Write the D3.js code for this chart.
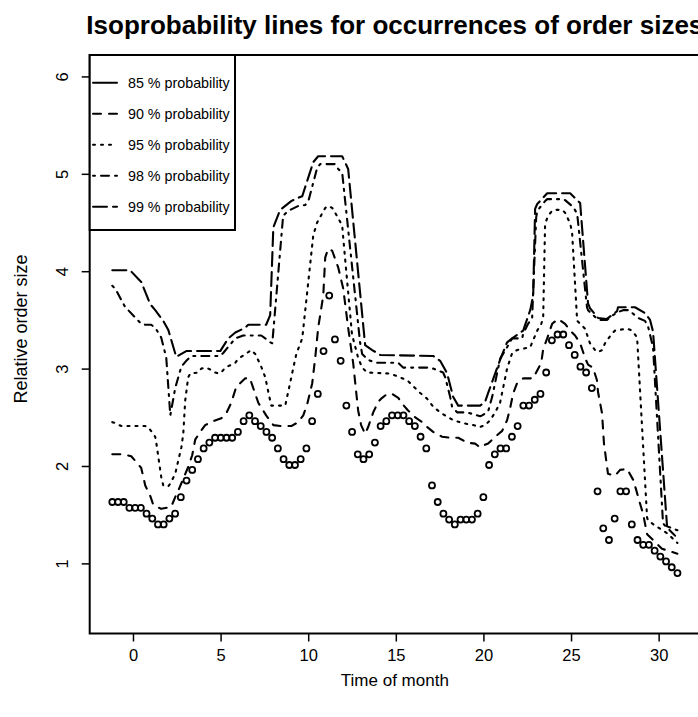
<!DOCTYPE html>
<html><head><meta charset="utf-8">
<script src="https://cdn.jsdelivr.net/npm/d3@7"></script>
<style>html,body{margin:0;padding:0;background:#fff;overflow:hidden}svg{display:block}</style>
</head><body><svg id="c" width="698" height="717"></svg>
<script>
// ---- data ----
const days = [-1.18,-0.854,-0.528,-0.203,0.123,0.449,0.775,1.101,1.426,1.752,
2.078,2.404,2.730,3.055,3.381,3.707,4.033,4.359,4.684,5.010,
5.336,5.662,5.988,6.313,6.639,6.965,7.291,7.617,7.942,8.268,
8.594,8.920,9.246,9.571,9.897,10.223,10.549,10.875,11.200,11.526,
11.852,12.178,12.504,12.829,13.155,13.481,13.807,14.133,14.458,14.784,
15.110,15.436,15.762,16.087,16.413,16.739,17.065,17.391,17.716,18.042,
18.368,18.694,19.020,19.345,19.671,19.997,20.323,20.649,20.974,21.300,
21.626,21.952,22.278,22.603,22.929,23.255,23.581,23.907,24.232,24.558,
24.884,25.210,25.536,25.861,26.187,26.513,26.839,27.165,27.490,27.816,
28.142,28.468,28.794,29.119,29.445,29.771,30.097,30.423,30.748,31.074];

const p85 = [1.63,1.63,1.63,1.57,1.57,1.57,1.51,1.46,1.40,1.40,
1.46,1.51,1.68,1.85,1.96,2.07,2.18,2.24,2.29,2.29,
2.29,2.29,2.35,2.46,2.52,2.46,2.41,2.35,2.29,2.18,
2.07,2.01,2.01,2.07,2.18,2.46,2.74,3.18,3.75,3.30,
3.08,2.62,2.35,2.12,2.07,2.12,2.24,2.41,2.46,2.52,
2.52,2.52,2.46,2.41,2.30,2.18,1.80,1.63,1.51,1.45,
1.40,1.45,1.45,1.45,1.51,1.68,2.01,2.12,2.18,2.18,
2.30,2.41,2.62,2.62,2.68,2.74,2.96,3.29,3.35,3.35,
3.24,3.14,3.02,2.96,2.80,1.74,1.36,1.24,1.46,1.74,
1.74,1.40,1.24,1.19,1.19,1.13,1.07,1.02,0.96,0.90];

const line90 = [[-1.18,2.12],[-0.55,2.12],[-0.10,2.10],[0.19,2.04],[0.47,1.98],[0.70,1.80],[0.99,1.69],[1.16,1.60],[1.61,1.56],[2.18,1.58],[2.41,1.68],[2.59,1.75],[2.87,1.87],[3.15,1.99],[3.38,2.11],[3.55,2.27],[3.84,2.35],[4.12,2.42],[4.58,2.46],[5.04,2.49],[5.32,2.54],[5.61,2.65],[5.89,2.81],[6.41,2.90],[6.69,2.90],[6.75,2.86],[7.15,2.65],[7.60,2.52],[8.01,2.42],[8.46,2.41],[9.03,2.41],[9.43,2.45],[9.72,2.52],[9.95,2.64],[10.23,2.85],[10.40,3.11],[10.57,3.42],[10.86,3.75],[10.97,4.14],[11.14,4.23],[11.37,4.21],[11.71,4.04],[12.00,3.82],[12.28,3.42],[12.57,3.05],[12.85,2.57],[13.02,2.42],[13.25,2.33],[13.42,2.40],[13.71,2.55],[14.00,2.66],[14.22,2.70],[14.51,2.74],[14.80,2.74],[15.14,2.70],[15.36,2.64],[15.70,2.57],[16.11,2.50],[16.50,2.45],[16.79,2.40],[17.13,2.35],[17.64,2.30],[18.10,2.29],[18.56,2.29],[19.07,2.24],[19.53,2.23],[19.81,2.19],[19.98,2.21],[20.27,2.23],[20.67,2.30],[21.07,2.36],[21.35,2.47],[21.52,2.59],[21.69,2.74],[21.92,2.85],[22.27,2.90],[22.84,2.90],[23.07,2.98],[23.30,3.06],[23.41,3.20],[23.64,3.31],[23.92,3.46],[24.26,3.51],[24.66,3.46],[24.95,3.39],[25.23,3.34],[25.52,3.26],[25.80,3.11],[25.97,3.04],[26.25,3.01],[26.48,2.88],[26.54,2.76],[26.77,2.54],[26.88,2.23],[27.05,2.00],[27.11,1.92],[27.51,1.90],[27.80,1.96],[28.20,1.97],[28.54,1.86],[28.71,1.76],[28.88,1.65],[29.11,1.51],[29.34,1.30],[30.19,1.15],[31.07,1.10]];

const line95 = [[-1.18,2.45],[-1.01,2.44],[-0.67,2.41],[0.70,2.41],[0.87,2.40],[1.27,2.30],[1.33,2.24],[1.61,1.89],[1.73,1.80],[2.01,1.79],[2.13,1.82],[2.41,1.92],[2.76,2.19],[2.87,2.33],[2.98,2.67],[3.15,2.91],[3.27,2.95],[3.72,2.96],[3.90,3.00],[4.18,3.01],[4.41,2.99],[4.69,2.96],[4.87,2.95],[5.04,2.96],[5.27,3.01],[5.84,3.06],[6.01,3.10],[6.75,3.19],[6.98,3.15],[7.32,3.02],[7.55,2.91],[7.83,2.67],[7.89,2.62],[8.69,2.62],[8.75,2.67],[9.32,3.15],[9.66,3.31],[10.29,4.37],[10.51,4.50],[10.97,4.65],[11.14,4.67],[11.37,4.65],[11.54,4.60],[11.94,4.47],[12.00,4.34],[12.50,3.35],[12.85,3.11],[13.08,3.01],[13.36,2.96],[14.57,2.95],[14.96,2.93],[15.65,2.88],[15.93,2.83],[16.39,2.75],[16.79,2.69],[17.13,2.61],[17.53,2.55],[18.27,2.47],[18.84,2.44],[19.41,2.42],[19.81,2.40],[20.10,2.42],[20.38,2.47],[20.67,2.55],[20.95,2.65],[21.35,3.00],[21.64,3.16],[21.92,3.19],[22.67,3.22],[23.07,3.39],[23.30,3.46],[23.41,3.52],[23.52,4.49],[23.70,4.57],[23.92,4.62],[24.09,4.63],[24.49,4.63],[24.66,4.60],[24.95,4.49],[25.06,4.40],[25.35,3.49],[25.52,3.46],[25.80,3.41],[26.08,3.26],[26.37,3.19],[26.54,3.17],[26.77,3.19],[26.94,3.26],[27.34,3.36],[27.51,3.39],[28.20,3.41],[28.48,3.39],[28.77,3.32],[29.34,1.47],[29.40,1.44],[29.79,1.39],[30.48,1.31],[31.07,1.21]];

const line98 = [[-1.18,3.85],[-1.01,3.82],[-0.44,3.63],[-0.27,3.60],[0.47,3.46],[0.70,3.45],[1.04,3.45],[1.27,3.42],[1.61,3.32],[1.90,3.11],[2.13,2.52],[2.41,2.80],[2.76,3.02],[3.04,3.08],[3.33,3.13],[4.98,3.13],[5.15,3.16],[5.61,3.26],[5.84,3.31],[6.29,3.34],[7.32,3.34],[7.55,3.31],[7.83,3.27],[7.95,3.26],[8.57,4.57],[8.86,4.62],[9.43,4.67],[9.83,4.68],[10.01,4.72],[10.51,5.06],[10.68,5.10],[11.54,5.10],[11.71,5.05],[11.94,5.01],[12.96,3.27],[13.08,3.15],[13.36,3.10],[13.54,3.08],[13.94,3.06],[15.14,3.06],[15.42,3.01],[16.79,3.01],[17.13,3.00],[17.70,2.96],[17.82,2.91],[18.10,2.71],[18.21,2.61],[18.50,2.55],[19.07,2.55],[19.81,2.51],[19.93,2.52],[20.27,2.56],[20.50,2.71],[20.95,3.10],[21.35,3.22],[21.64,3.31],[22.21,3.31],[22.27,3.36],[22.55,3.46],[22.78,3.52],[23.01,4.55],[23.07,4.62],[23.52,4.72],[23.64,4.74],[24.55,4.74],[24.66,4.73],[25.12,4.66],[25.35,4.59],[25.91,3.63],[25.97,3.60],[26.37,3.53],[26.65,3.50],[27.05,3.50],[27.40,3.55],[27.68,3.58],[27.97,3.60],[28.30,3.60],[28.83,3.52],[29.22,3.49],[29.40,3.43],[29.68,3.22],[30.25,1.41],[31.07,1.26]];

const line99 = [[-1.18,4.01],[-0.17,4.01],[0.47,3.89],[0.99,3.66],[1.27,3.60],[1.73,3.49],[2.01,3.40],[2.47,3.12],[3.04,3.18],[4.98,3.18],[5.44,3.31],[5.84,3.37],[6.41,3.42],[6.58,3.45],[7.60,3.45],[7.83,3.55],[8.01,4.45],[8.40,4.63],[9.03,4.72],[9.38,4.75],[9.66,4.77],[10.29,5.12],[10.57,5.18],[11.94,5.18],[12.28,5.05],[13.25,3.24],[13.65,3.19],[14.11,3.14],[17.13,3.13],[17.53,3.08],[17.93,2.95],[18.27,2.71],[18.56,2.62],[19.81,2.62],[20.10,2.66],[20.27,2.75],[20.95,3.09],[21.35,3.27],[21.64,3.31],[22.27,3.39],[22.67,3.60],[22.84,3.75],[22.95,4.64],[23.07,4.69],[23.64,4.80],[24.95,4.80],[25.52,4.70],[25.97,3.67],[26.08,3.62],[26.54,3.52],[27.05,3.51],[27.63,3.59],[27.68,3.63],[28.65,3.63],[29.22,3.57],[29.51,3.50],[29.68,3.38],[30.48,1.38],[31.07,1.34]];

const xTicks = [0, 5, 10, 15, 20, 25, 30];
const yTicks = [1, 2, 3, 4, 5, 6];
const legendLabels = ["85 % probability", "90 % probability", "95 % probability", "98 % probability", "99 % probability"];
const legendDash = [null, "8,8", "2,6", "2,6,8,6", "14,6"];
const titleText = "Isoprobability lines for occurrences of order sizes";
const xLabel = "Time of month";
const yLabel = "Relative order size";

// ---- drawing ----
const svg = d3.select("#c");
const FONT = "Liberation Sans, Arial, Helvetica, sans-serif";
const L = 89.7, R = 700, T = 55, B = 633.5;
const x = d3.scaleLinear().domain([-2.47, 32.36]).range([L, R]);
const y = d3.scaleLinear().domain([0.28, 6.22]).range([B, T]);

svg.append("rect").attr("width", 698).attr("height", 717).attr("fill", "#fff");

const line = d3.line().x(d => x(d[0])).y(d => y(d[1]));
const series = [
  {data: line90, dash: "8,8"},
  {data: line95, dash: "2,6"},
  {data: line98, dash: "2,6,8,6"},
  {data: line99, dash: "14,6"}
];
const gLines = svg.append("g");
series.forEach(s => {
  gLines.append("path").attr("d", line(s.data))
    .attr("fill", "none").attr("stroke", "#000").attr("stroke-width", 2.1)
    .attr("stroke-dasharray", s.dash).attr("stroke-linecap", "round").attr("stroke-linejoin", "round");
});

svg.append("g").selectAll("circle").data(p85).join("circle")
  .attr("cx", (d, i) => x(days[i])).attr("cy", d => y(d))
  .attr("r", 3).attr("fill", "none").attr("stroke", "#000").attr("stroke-width", 1.8);

// axes
const gx = svg.append("g").attr("transform", `translate(0,${B})`)
  .call(d3.axisBottom(x).tickValues(xTicks).tickSize(8).tickFormat(d3.format("d")));
gx.select(".domain").remove();
gx.selectAll("line").attr("stroke-width", 1.5);
gx.selectAll("text").attr("y", 16).attr("font-size", 16.5).attr("font-family", FONT).attr("fill", "#000");

const gy = svg.append("g").attr("transform", `translate(${L},0)`)
  .call(d3.axisLeft(y).tickValues(yTicks).tickSize(8).tickFormat(d3.format("d")));
gy.select(".domain").remove();
gy.selectAll("line").attr("stroke-width", 1.5);
gy.selectAll("text").attr("transform", "rotate(-90)").attr("x", 0).attr("y", -21.5).attr("dy", 0)
  .attr("text-anchor", "middle").attr("font-size", 16.5).attr("font-family", FONT).attr("fill", "#000");

// box
svg.append("rect").attr("x", L).attr("y", T).attr("width", R - L).attr("height", B - T)
  .attr("fill", "none").attr("stroke", "#000").attr("stroke-width", 2);

// legend
const lg = svg.append("g");
lg.append("rect").attr("x", L).attr("y", T).attr("width", 235 - L).attr("height", 230 - T)
  .attr("fill", "#fff").attr("stroke", "#000").attr("stroke-width", 2);
legendLabels.forEach((lab, i) => {
  const yy = 82.7 + i * 31;
  lg.append("line").attr("x1", 93).attr("x2", 117).attr("y1", yy).attr("y2", yy)
    .attr("stroke", "#000").attr("stroke-width", 2).attr("stroke-linecap", "round")
    .attr("stroke-dasharray", legendDash[i]);
  lg.append("text").attr("x", 128).attr("y", yy).attr("dy", "0.35em")
    .attr("font-size", 14.3).attr("font-family", FONT).text(lab);
});

// titles
svg.append("text").attr("x", (L + R) / 2).attr("y", 34).attr("text-anchor", "middle")
  .attr("font-size", 26).attr("font-weight", "bold").attr("font-family", FONT).text(titleText);
svg.append("text").attr("x", (L + R) / 2).attr("y", 686).attr("text-anchor", "middle")
  .attr("font-size", 17).attr("font-family", FONT).text(xLabel);
svg.append("text").attr("transform", `translate(27,329) rotate(-90)`).attr("text-anchor", "middle")
  .attr("font-size", 18).attr("font-family", FONT).text(yLabel);
</script></body></html>
